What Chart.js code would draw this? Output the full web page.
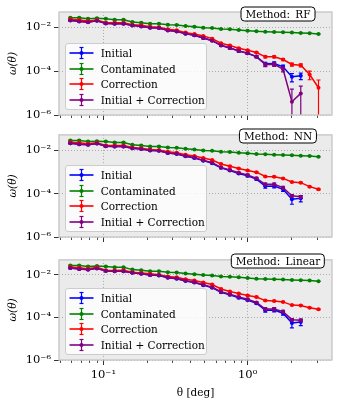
<!DOCTYPE html>
<html><head><meta charset="utf-8">
<script src="https://cdn.jsdelivr.net/npm/chart.js@4.4.1/dist/chart.umd.min.js"></script>
<style>
html,body{margin:0;padding:0;background:#fff;}
#wrap{position:relative;width:350px;height:400px;overflow:hidden;font-family:'DejaVu Serif',serif;}
canvas{position:absolute;left:0;}
.lg{position:absolute;background:rgba(255,255,255,0.8);border:1px solid #cccccc;border-radius:3px;box-sizing:border-box;z-index:2;}
.row{position:absolute;left:3px;height:14px;width:135px;}
.row svg{position:absolute;left:0;top:0;}
.row span{position:absolute;left:32px;top:0;line-height:14px;font-size:10.5px;color:#000;white-space:nowrap;}
.method{position:absolute;background:#fff;border:1.4px solid #000;border-radius:4px;font-size:10.5px;line-height:11px;padding:1px 4px 1px 4px;transform:translate(-50%,-50%);white-space:nowrap;z-index:2;color:#000;}
</style>
</head><body>
<div id="wrap"></div>
<script>
// ---------- data ----------
const theta = [0.0591,0.0681,0.0784,0.0903,0.104,0.1198,0.138,0.1589,0.1831,0.2109,0.2429,0.2798,0.3223,0.3713,0.4276,0.4926,0.5674,0.6535,0.7528,0.8671,0.9989,1.1506,1.3253,1.5266,1.7585,2.0256,2.3333,2.6877,3.096];

const contaminated = [0.0275,0.0275,0.0248,0.0257,0.0248,0.0223,0.0223,0.0175,0.0163,0.0147,0.0147,0.0132,0.0128,0.0115,0.0107,0.00966,0.00933,0.0084,0.0081,0.00757,0.00706,0.00658,0.00636,0.00614,0.00593,0.00573,0.00553,0.00534,0.00498];
const errContaminated = [0.0012,0.0011,0.001,0.001,0.0009,0.0008,0.0008,0.0006,0.0005,0.0005,0.0004,0.0004,0.0003,0.0003,0.00025,0.0002,0.0002,0.00017,0.00015,0.00013,0.00012,0.0001,0.0001,0.00009,0.00008,0.00008,0.00007,0.00007,0.00006];

const initial = [0.0208,0.0187,0.0175,0.0201,0.0152,0.0147,0.0147,0.0123,0.0111,0.00966,0.00933,0.00731,0.00658,0.00515,0.00433,0.00327,0.00248,0.00152,0.00115,0.00084,0.000658,0.000464,0.000215,0.000223,0.000157,0.0000552,0.0000614,null,null];
const errInitial = [0.0012,0.0011,0.001,0.001,0.0009,0.0008,0.0008,0.0006,0.0005,0.0005,0.0004,0.0004,0.0003,0.0003,0.00025,0.0002,0.00017,0.00012,0.0001,0.00008,0.00007,0.00005,0.00004,0.00004,0.00003,0.000023,0.00002,null,null];

const correctionRF = [0.0231,0.0215,0.0194,0.0215,0.0163,0.0163,0.0163,0.0132,0.0123,0.0107,0.01,0.0081,0.0073,0.00573,0.00498,0.00404,0.00305,0.00187,0.00147,0.00111,0.0009,0.000705,0.000449,0.000449,0.000339,0.000201,0.000187,0.0000705,0.0000175];
const errCorrectionRF = [0.0012,0.0011,0.001,0.001,0.0009,0.0008,0.0008,0.0006,0.0005,0.0005,0.0004,0.0004,0.0003,0.0003,0.00025,0.0002,0.00017,0.00012,0.0001,0.00008,0.00007,0.00006,0.00005,0.00005,0.00004,0.00003,0.00003,0.00003,0.000022];
const correctionNN = [0.0231,0.0215,0.0194,0.0215,0.0163,0.0163,0.0163,0.0132,0.0123,0.0107,0.01,0.0084,0.00757,0.00614,0.00534,0.00433,0.00351,0.00231,0.00181,0.00142,0.00115,0.000966,0.000614,0.000593,0.000498,0.000339,0.000316,0.000208,0.000157];
const errCorrectionNN = [0.0012,0.0011,0.001,0.001,0.0009,0.0008,0.0008,0.0006,0.0005,0.0005,0.0004,0.0004,0.0003,0.0003,0.00025,0.0002,0.00017,0.00012,0.0001,0.00008,0.00007,0.00006,0.00004,0.00004,0.00003,0.00002,0.00002,0.000015,0.000012];
const correctionLinear = [0.0231,0.0215,0.0194,0.0223,0.0163,0.0157,0.0163,0.0132,0.0123,0.0111,0.01,0.0084,0.00757,0.00614,0.00534,0.00433,0.00351,0.00216,0.00163,0.00132,0.00107,0.000901,0.000614,0.000593,0.000534,0.000377,0.000364,0.000285,0.000239];
const errCorrectionLinear = [0.0012,0.0011,0.001,0.001,0.0009,0.0008,0.0008,0.0006,0.0005,0.0005,0.0004,0.0004,0.0003,0.0003,0.00025,0.0002,0.00017,0.00012,0.0001,0.00008,0.00007,0.00006,0.00004,0.00004,0.00003,0.00002,0.00002,0.000015,0.000012];

const initCorrRF = [0.0204,0.0185,0.0172,0.0198,0.015,0.0145,0.0145,0.0121,0.011,0.0095,0.0092,0.0072,0.0065,0.0051,0.0043,0.00325,0.00246,0.0015,0.00114,0.00083,0.00065,0.00046,0.000201,0.000207,0.000123,0.00000404,0.00000966,null,null];
const errInitCorrRF = [0.0012,0.0011,0.001,0.001,0.0009,0.0008,0.0008,0.0006,0.0005,0.0005,0.0004,0.0004,0.0003,0.0003,0.00025,0.0002,0.00017,0.00012,0.0001,0.00008,0.00007,0.00005,0.00004,0.00004,0.00003,0.000011,0.000011,null,null];
const initCorrNN = [0.0206,0.0186,0.0174,0.02,0.0152,0.0147,0.0147,0.0123,0.0112,0.0097,0.0094,0.0074,0.0067,0.0053,0.0045,0.0034,0.0026,0.0016,0.00122,0.0009,0.00071,0.0005,0.000266,0.000266,0.000187,0.0000783,0.0000705,null,null];
const errInitCorrNN = [0.0012,0.0011,0.001,0.001,0.0009,0.0008,0.0008,0.0006,0.0005,0.0005,0.0004,0.0004,0.0003,0.0003,0.00025,0.0002,0.00017,0.00012,0.0001,0.00008,0.00007,0.00005,0.00004,0.00004,0.00003,0.00001,0.00001,null,null];
const initCorrLinear = [0.0206,0.0186,0.0174,0.02,0.0152,0.0147,0.0147,0.0123,0.0112,0.0097,0.0094,0.0074,0.0067,0.0053,0.0045,0.0034,0.0026,0.0016,0.00122,0.0009,0.00071,0.0005,0.000248,0.000248,0.000187,0.0000783,0.0000735,null,null];
const errInitCorrLinear = [0.0012,0.0011,0.001,0.001,0.0009,0.0008,0.0008,0.0006,0.0005,0.0005,0.0004,0.0004,0.0003,0.0003,0.00025,0.0002,0.00017,0.00012,0.0001,0.00008,0.00007,0.00005,0.00004,0.00004,0.00003,0.00001,0.00001,null,null];

const seriesNames = ['Initial','Contaminated','Correction','Initial + Correction'];
const methods = ['RF','NN','Linear'];
const correctionByMethod = [correctionRF, correctionNN, correctionLinear];
const errCorrectionByMethod = [errCorrectionRF, errCorrectionNN, errCorrectionLinear];
const initCorrByMethod = [initCorrRF, initCorrNN, initCorrLinear];
const errInitCorrByMethod = [errInitCorrRF, errInitCorrNN, errInitCorrLinear];

const xTicks = [0.1, 1];
const xTickLabels = ['10\u207B\u00B9', '10\u2070'];
const xMinorTicks = [0.05,0.06,0.07,0.08,0.09,0.2,0.3,0.4,0.5,0.6,0.7,0.8,0.9,2,3];
const yTicks = [1e-6, 1e-4, 1e-2];
const yTickLabels = ['10\u207B\u2076', '10\u207B\u2074', '10\u207B\u00B2'];
const xMin = 0.0493, xMax = 3.84, yMin = 1e-6, yMax = 0.05;

// ---------- styles / layout ----------
const colors = ['#0000ff', '#008000', '#ff0000', '#800080'];
const drawOrder = [3, 2, 1, 0];
const layoutSpec = [
  {top:0,   height:125, padTop:12, axisH:10, showX:false},
  {top:125, height:125, padTop:9,  axisH:13, showX:false},
  {top:250, height:150, padTop:6,  axisH:40, showX:true}
];
const FONT = "'DejaVu Serif', serif";

const errorBars = {
  id: 'errorBars',
  afterDatasetDraw(chart, args) {
    const ds = chart.data.datasets[args.index];
    if (!ds.errors) return;
    const ys = chart.scales.y, ctx = chart.ctx, a = chart.chartArea;
    ctx.save();
    ctx.beginPath(); ctx.rect(a.left, a.top, a.right - a.left, a.bottom - a.top); ctx.clip();
    ctx.strokeStyle = ds.borderColor; ctx.lineWidth = 1.2;
    args.meta.data.forEach((pt, i) => {
      const v = ds.data[i].y, e = ds.errors[i];
      if (v == null || e == null) return;
      const px = pt.x;
      const hi = ys.getPixelForValue(v + e);
      const lowOk = v - e > 0;
      const lo = lowOk ? ys.getPixelForValue(v - e) : a.bottom + 5;
      ctx.beginPath();
      ctx.moveTo(px, hi); ctx.lineTo(px, lo);
      ctx.moveTo(px - 2, hi); ctx.lineTo(px + 2, hi);
      if (lowOk) { ctx.moveTo(px - 2, lo); ctx.lineTo(px + 2, lo); }
      ctx.stroke();
    });
    ctx.restore();
  }
};

const frame = {
  id: 'frame',
  beforeDraw(chart) {
    const {ctx, chartArea: a} = chart;
    ctx.save(); ctx.fillStyle = '#ebebeb';
    ctx.fillRect(a.left, a.top, a.right - a.left, a.bottom - a.top);
    ctx.restore();
  },
  afterDraw(chart) {
    const {ctx, chartArea: a} = chart;
    const xs = chart.scales.x;
    ctx.save();
    ctx.strokeStyle = '#000'; ctx.lineWidth = 0.7;
    ctx.beginPath();
    xMinorTicks.forEach(v => {
      if (v < xMin || v > xMax) return;
      const px = Math.round(xs.getPixelForValue(v)) + 0.5;
      ctx.moveTo(px, a.bottom); ctx.lineTo(px, a.bottom + 3);
    });
    ctx.stroke();
    ctx.strokeStyle = '#c8c8c8'; ctx.lineWidth = 1.4;
    ctx.strokeRect(a.left, a.top, a.right - a.left, a.bottom - a.top);
    ctx.restore();
  }
};

const wrap = document.getElementById('wrap');

function handleSVG(c) {
  return `<svg width="26" height="14" viewBox="0 0 26 14"><line x1="0.5" y1="7" x2="24.5" y2="7" stroke="${c}" stroke-width="1.6"/>` +
    `<line x1="12.5" y1="1.5" x2="12.5" y2="12.5" stroke="${c}" stroke-width="1.2"/>` +
    `<line x1="10.5" y1="1.5" x2="14.5" y2="1.5" stroke="${c}" stroke-width="1.2"/>` +
    `<line x1="10.5" y1="12.5" x2="14.5" y2="12.5" stroke="${c}" stroke-width="1.2"/>` +
    `<circle cx="12.5" cy="7" r="2" fill="${c}"/></svg>`;
}

methods.forEach((m, k) => {
  const L = layoutSpec[k];
  const cv = document.createElement('canvas');
  cv.width = 350; cv.height = L.height;
  cv.style.top = L.top + 'px'; cv.style.width = '350px'; cv.style.height = L.height + 'px';
  wrap.appendChild(cv);

  const values = [initial, contaminated, correctionByMethod[k], initCorrByMethod[k]];
  const errs = [errInitial, errContaminated, errCorrectionByMethod[k], errInitCorrByMethod[k]];
  const datasets = values.map((vals, s) => ({
    label: seriesNames[s],
    data: theta.map((t, i) => ({x: t, y: vals[i]})),
    errors: errs[s],
    borderColor: colors[s], backgroundColor: colors[s],
    borderWidth: 1.5, pointRadius: 2, pointBorderWidth: 0, pointHoverRadius: 2,
    tension: 0, spanGaps: false, order: drawOrder[s], clip: 2
  }));

  const chart = new Chart(cv, {
    type: 'line',
    data: {datasets},
    options: {
      responsive: false, animation: false, devicePixelRatio: 1,
      layout: {padding: {left: 0, right: 18, top: L.padTop, bottom: 0}},
      plugins: {legend: {display: false}, tooltip: {enabled: false}, title: {display: false}},
      scales: {
        x: {
          type: 'logarithmic', min: xMin, max: xMax, bounds: 'data',
          afterBuildTicks: s => { s.ticks = xTicks.map(v => ({value: v})); },
          afterFit: s => { s.height = L.axisH; },
          ticks: {display: L.showX, autoSkip: false, maxRotation: 0, padding: 3, color: '#000',
                  font: {family: FONT, size: 11.5},
                  callback: (v, i) => xTickLabels[i]},
          grid: {color: '#9a9a9a', lineWidth: 0.8, tickColor: '#000', tickLength: 5, tickWidth: 0.8},
          border: {display: false, dash: [1, 2]},
          title: {display: L.showX, text: 'θ [deg]', color: '#000', font: {family: FONT, size: 10.5}, padding: {top: 1, bottom: 0}}
        },
        y: {
          type: 'logarithmic', min: yMin, max: yMax, bounds: 'data',
          afterBuildTicks: s => { s.ticks = yTicks.map(v => ({value: v})); },
          afterFit: s => { s.width = 59; },
          ticks: {autoSkip: false, padding: 3, color: '#000', font: {family: FONT, size: 11.5},
                  callback: (v, i) => yTickLabels[i]},
          grid: {color: '#9a9a9a', lineWidth: 0.8, tickColor: '#000', tickLength: 5, tickWidth: 0.8},
          border: {display: false, dash: [1, 2]},
          title: {display: true, text: 'ω(θ)', color: '#000', font: {family: FONT, size: 10.5, style: 'italic'}, padding: {top: 7, bottom: 0}}
        }
      }
    },
    plugins: [frame, errorBars]
  });

  const a = chart.chartArea;
  // legend (built from datasets)
  const lg = document.createElement('div');
  lg.className = 'lg';
  const lgH = 66.7;
  lg.style.left = (a.left + 5.7) + 'px';
  lg.style.top = (L.top + a.bottom - 5 - lgH) + 'px';
  lg.style.width = '142.6px'; lg.style.height = lgH + 'px';
  const rowCenters = [10, 25.5, 41, 56.5];
  chart.data.datasets.forEach((ds, s) => {
    const r = document.createElement('div');
    r.className = 'row';
    r.style.top = (rowCenters[s] - 8) + 'px';
    r.innerHTML = handleSVG(ds.borderColor) + `<span>${ds.label}</span>`;
    lg.appendChild(r);
  });
  wrap.appendChild(lg);

  const mb = document.createElement('div');
  mb.className = 'method';
  mb.textContent = 'Method:\u2002' + m;
  mb.style.left = '278px';
  mb.style.top = (L.top + a.top + 1.5) + 'px';
  wrap.appendChild(mb);
});
</script>
</body></html>
